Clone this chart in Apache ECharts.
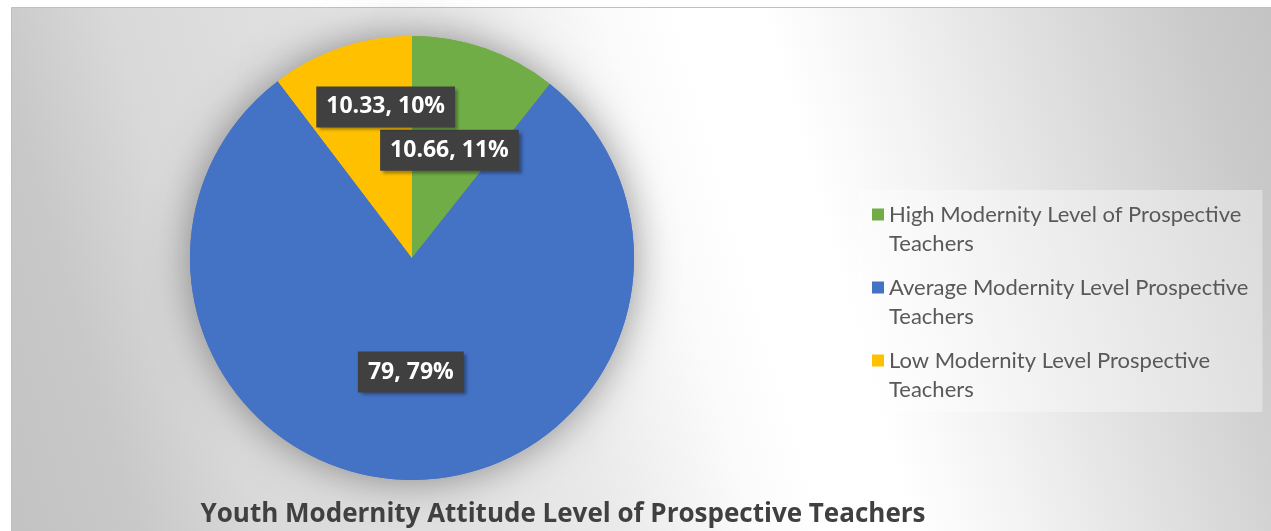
<!DOCTYPE html>
<html>
<head>
<meta charset="utf-8">
<script src="https://cdn.jsdelivr.net/npm/echarts@6/dist/echarts.min.js"></script>
<style>
html, body { margin: 0; padding: 0; background: #fff; }
#main { width: 1271px; height: 531px; }
</style>
</head>
<body>
<div id="main"></div>
<script>
var categories = [
    'High Modernity Level of Prospective Teachers',
    'Average Modernity Level Prospective Teachers',
    'Low Modernity Level Prospective Teachers'
];
var values = [10.66, 79, 10.33];
var chartTitle = 'Youth Modernity Attitude Level of Prospective Teachers';

var myChart = echarts.init(document.getElementById('main'));

// series data built from the arrays above
var pieData = categories.map(function (name, i) {
    var item = { name: name, value: values[i] };
    if (i === 2) {
        // excel nudged this label up so it doesn't sit on the green one
        item.label = { offset: [10, -43] };
    }
    return item;
});

var bgFill = {
    type: 'linear',
    x: -13, y: 458, x2: 1293, y2: 82,
    global: true,
    colorStops: [
        { offset: 0, color: '#c3c3c3' },
        { offset: 0.09, color: '#c8c8c8' },
        { offset: 0.18, color: '#d9d9d9' },
        { offset: 0.31, color: '#e0e0e0' },
        { offset: 0.43, color: '#eaeaea' },
        { offset: 0.53, color: '#fbfbfb' },
        { offset: 0.58, color: '#ffffff' },
        { offset: 0.64, color: '#ffffff' },
        { offset: 0.72, color: '#f3f3f3' },
        { offset: 0.8, color: '#e4e4e4' },
        { offset: 0.9, color: '#d2d2d2' },
        { offset: 0.95, color: '#c9c9c9' },
        { offset: 1, color: '#c4c4c4' }
    ]
};

var option = {
    animation: false,
    color: ['#70AD47', '#4472C4', '#FFC000'],
    graphic: [{
        type: 'rect',
        z: -10,
        silent: true,
        shape: { x: 11.5, y: 7.5, width: 1270, height: 530 },
        style: { fill: bgFill, stroke: '#c0c0c0', lineWidth: 1 }
    }],
    title: {
        text: chartTitle,
        left: 563,
        top: 502,
        textAlign: 'center',
        padding: 0,
        textStyle: {
            fontFamily: 'Open Sans',
            fontSize: 26,
            fontWeight: 'bold',
            color: '#404040'
        }
    },
    legend: {
        orient: 'vertical',
        left: 858,
        top: 190,
        padding: [10, 14, 8, 14],
        itemGap: 15,
        itemWidth: 12,
        itemHeight: 41,
        // square at top of a tall icon box so it lines up with the first text line
        icon: 'path://M0,0H12V12H0Z M0,40.9H0.1V41H0Z',
        backgroundColor: 'rgba(255,255,255,0.35)',
        formatter: function (name) {
            return name.replace(/ (Teachers)$/, '\n$1');
        },
        textStyle: {
            fontFamily: 'Lato',
            fontSize: 22,
            color: '#595959',
            lineHeight: 29
        },
        data: categories
    },
    series: [{
        // shadow only, sits under the real pie
        type: 'pie',
        silent: true,
        z: 1,
        center: [412, 258],
        radius: 222,
        startAngle: 90,
        label: { show: false },
        labelLine: { show: false },
        itemStyle: {
            shadowBlur: 40,
            shadowColor: 'rgba(0,0,0,0.4)'
        },
        data: pieData.map(function (d) { return { name: d.name, value: d.value }; })
    }, {
        type: 'pie',
        z: 2,
        center: [412, 258],
        radius: 222,
        startAngle: 90,
        percentPrecision: 0,
        avoidLabelOverlap: false,
        itemStyle: { borderWidth: 0 },
        label: {
            show: true,
            position: 'inside',
            formatter: '{c}, {d}%',
            fontFamily: 'Open Sans',
            fontSize: 23,
            fontWeight: 'bold',
            color: '#ffffff',
            lineHeight: 24,
            backgroundColor: '#404040',
            padding: [8, 10, 9, 10],
            shadowColor: 'rgba(0,0,0,0.35)',
            shadowBlur: 3,
            shadowOffsetX: 3,
            shadowOffsetY: 3
        },
        labelLine: { show: false },
        data: pieData
    }]
};

myChart.setOption(option);
</script>
</body>
</html>
